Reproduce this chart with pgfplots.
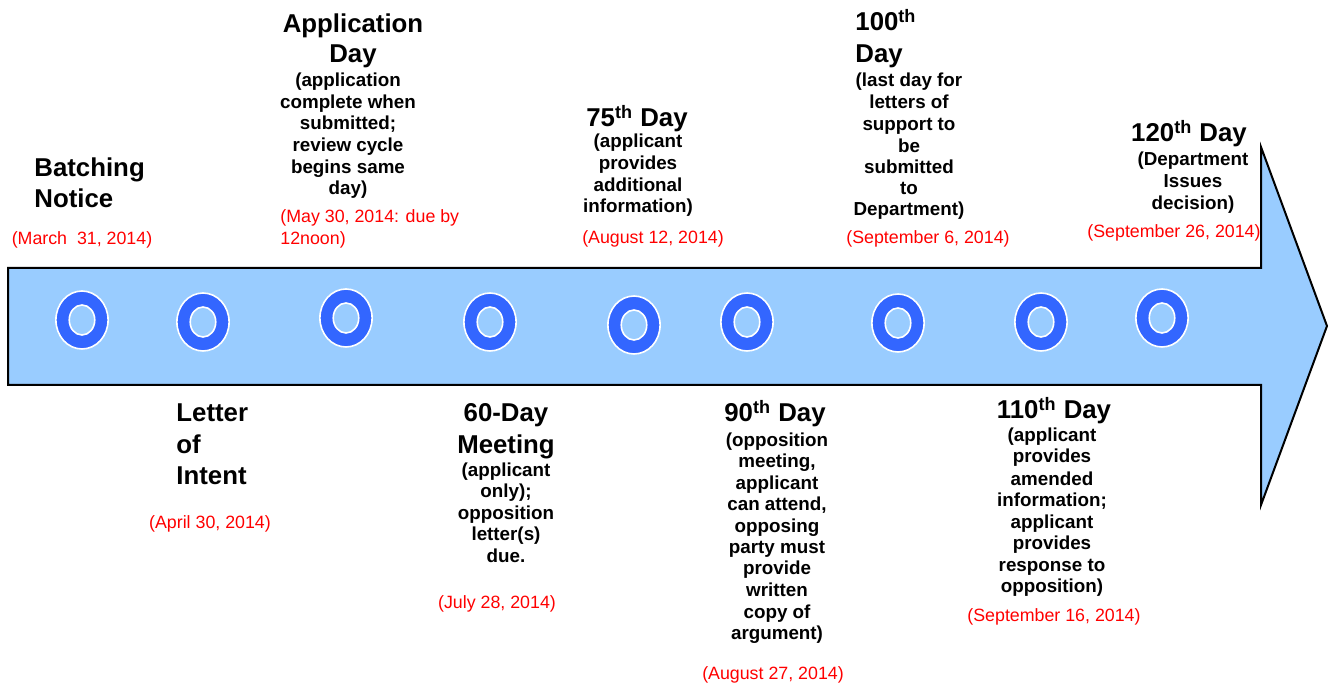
\documentclass[border=0pt]{standalone}
\usepackage{pgfplots}
\pgfplotsset{compat=1.18}
\usepackage{fontspec}
\setmainfont{Liberation Sans}
\definecolor{lblue}{RGB}{153,204,255}
\definecolor{cblue}{RGB}{51,102,255}
\definecolor{dred}{RGB}{255,0,0}
\newcommand{\hd}{\fontsize{12.9}{15}\selectfont\bfseries}
\newcommand{\sm}{\fontsize{9.4}{11}\selectfont\bfseries}
\newcommand{\rd}{\fontsize{8.9}{11}\selectfont\color{dred}}
\newcommand{\sth}{\textsuperscript{th}}
\newcommand{\lab}[4]{\node[inner sep=0pt,anchor=#1] at (axis cs:#2,#3) {#4};}
\begin{document}
\begin{tikzpicture}
\begin{axis}[
  width=664.5pt, height=342pt, scale only axis,
  xmin=0, xmax=1329, ymin=0, ymax=684, y dir=reverse,
  axis lines=none, ticks=none, clip=false]
\path (axis cs:0,0) rectangle (axis cs:1329,684);
% arrow
\addplot[fill=lblue, draw=black, line width=1pt, line join=miter] coordinates {
 (8,268) (1261,268) (1261,147) (1327,326) (1261,505) (1261,385) (8,385)} --cycle;
% circles
\addplot[only marks, mark=*, mark size=14.5pt,
  mark options={xscale=0.9, fill=cblue, draw=white, line width=0.8pt}] coordinates {
 (82,320) (203,322) (346,318) (490,322) (634,325) (747,322) (898,323) (1041,322) (1162,318)};
\addplot[only marks, mark=*, mark size=7.5pt,
  mark options={xscale=0.85, fill=lblue, draw=white, line width=0.8pt}] coordinates {
 (82,320) (203,322) (346,318) (490,322) (634,325) (747,322) (898,323) (1041,322) (1162,318)};
% 1 Batching Notice
\lab{base west}{34}{177}{\hd Batching}
\lab{base west}{34}{208}{\hd Notice}
\lab{base}{82}{245}{\rd (March\ \ 31, 2014)}
% 2 Letter of Intent
\lab{base west}{176}{422}{\hd Letter}
\lab{base west}{176}{453}{\hd of}
\lab{base west}{176}{484}{\hd Intent}
\lab{base}{210}{528}{\rd (April 30, 2014)}
% 3 Application Day
\lab{base}{353}{33}{\hd Application}
\lab{base}{353}{63}{\hd Day}
\lab{base}{348}{87}{\sm (application}
\lab{base}{348}{109}{\sm complete when}
\lab{base}{348}{130}{\sm submitted;}
\lab{base}{348}{152}{\sm review cycle}
\lab{base}{348}{174}{\sm begins same}
\lab{base}{348}{195}{\sm day)}
\lab{base west}{280}{223}{\rd (May 30, 2014: due by}
\lab{base west}{280}{245}{\rd 12noon)}
% 4 60-Day Meeting
\lab{base}{506}{422}{\hd 60-Day}
\lab{base}{506}{453}{\hd Meeting}
\lab{base}{506}{476}{\sm (applicant}
\lab{base}{506}{497}{\sm only);}
\lab{base}{506}{519}{\sm opposition}
\lab{base}{506}{540}{\sm letter(s)}
\lab{base}{506}{562}{\sm due.}
\lab{base}{497}{608}{\rd (July 28, 2014)}
% 5 75th Day
\lab{base}{637}{127}{\hd 75\sth\ Day}
\lab{base}{638}{148}{\sm (applicant}
\lab{base}{638}{170}{\sm provides}
\lab{base}{638}{192}{\sm additional}
\lab{base}{638}{213}{\sm information)}
\lab{base}{653}{244}{\rd (August 12, 2014)}
% 6 90th Day
\lab{base}{775}{422}{\hd 90\sth\ Day}
\lab{base}{777}{446}{\sm (opposition}
\lab{base}{777}{467}{\sm meeting,}
\lab{base}{777}{489}{\sm applicant}
\lab{base}{777}{510}{\sm can attend,}
\lab{base}{777}{532}{\sm opposing}
\lab{base}{777}{553}{\sm party must}
\lab{base}{777}{574}{\sm provide}
\lab{base}{777}{596}{\sm written}
\lab{base}{777}{618}{\sm copy of}
\lab{base}{777}{639}{\sm argument)}
\lab{base}{773}{679}{\rd (August 27, 2014)}
% 7 100th Day
\lab{base west}{855}{31}{\hd 100\sth}
\lab{base west}{855}{63}{\hd Day}
\lab{base}{909}{87}{\sm (last day for}
\lab{base}{909}{109}{\sm letters of}
\lab{base}{909}{131}{\sm support to}
\lab{base}{909}{153}{\sm be}
\lab{base}{909}{174}{\sm submitted}
\lab{base}{909}{195}{\sm to}
\lab{base}{909}{216}{\sm Department)}
\lab{base}{928}{244}{\rd (September 6, 2014)}
% 8 110th Day
\lab{base}{1054}{419}{\hd 110\sth\ Day}
\lab{base}{1052}{442}{\sm (applicant}
\lab{base}{1052}{463}{\sm provides}
\lab{base}{1052}{485}{\sm amended}
\lab{base}{1052}{506}{\sm information;}
\lab{base}{1052}{528}{\sm applicant}
\lab{base}{1052}{549}{\sm provides}
\lab{base}{1052}{571}{\sm response to}
\lab{base}{1052}{592}{\sm opposition)}
\lab{base}{1054}{621}{\rd (September 16, 2014)}
% 9 120th Day
\lab{base}{1189}{142}{\hd 120\sth\ Day}
\lab{base}{1193}{166}{\sm (Department}
\lab{base}{1193}{188}{\sm Issues}
\lab{base}{1193}{210}{\sm decision)}
\lab{base}{1174}{238}{\rd (September 26, 2014)}
\end{axis}
\end{tikzpicture}
\end{document}
